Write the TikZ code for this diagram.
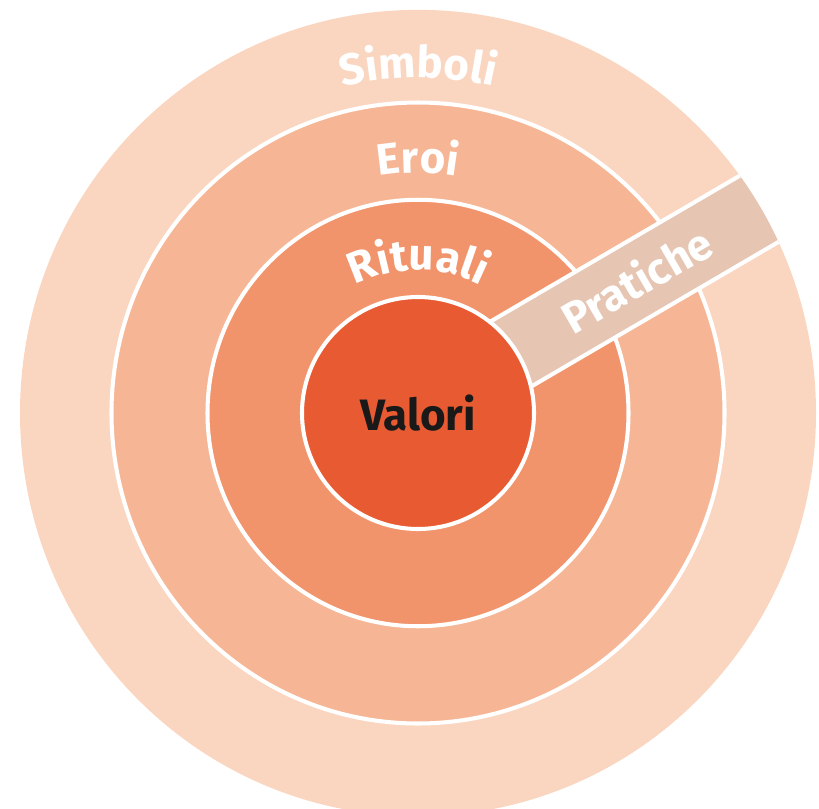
\documentclass[tikz,border=0pt]{standalone}
\usepackage{fontspec}
\setmainfont{Fira Sans}
\usetikzlibrary{decorations.text}
\definecolor{simbolicol}{HTML}{FAD6C1}
\definecolor{eroicol}{HTML}{F6B695}
\definecolor{ritualicol}{HTML}{F2946B}
\definecolor{valoricol}{HTML}{E85A32}
\definecolor{pratichecol}{HTML}{E6C6B3}
\newcommand{\ringfont}{\fontsize{25}{25}\selectfont\bfseries}
\begin{document}
\begin{tikzpicture}[yscale=1.013]
	\tikzstyle{ring}=[draw=white, line width=2.3pt]
	\tikzstyle{word}=[text=white, font=\ringfont, inner sep=0pt]
	\tikzstyle{arcword}=[decorate, decoration={text along path, text align=center, text color=white}]

	\clip (-8.36,-7.80) rectangle (8.02,8.154);

	\fill[simbolicol] (0,0) circle (7.96);
	\draw[ring, fill=eroicol] (0,0) circle (6.13);
	\draw[ring, fill=ritualicol] (0,0) circle (4.21);

	\begin{scope}
		\clip (0,0) circle (7.96);
		\begin{scope}[rotate=30]
			\fill[pratichecol] (0,-0.68) rectangle (9,0.84);
			\draw[ring] (0,-0.68) -- (9,-0.68);
			\draw[ring] (0,0.84) -- (9,0.84);
		\end{scope}
	\end{scope}

	\node[circle, ring, fill=valoricol, minimum size=4.64cm, font=\ringfont, text=black!90] (valori) at (0,0) {Valori};

	\path[arcword, decoration={text={|\ringfont|Simboli}}] (150:6.62) arc[start angle=150, end angle=30, radius=6.62];
	\path[arcword, decoration={text={|\ringfont|Eroi}}] (150:4.74) arc[start angle=150, end angle=30, radius=4.74];
	\path[arcword, decoration={text={|\ringfont|Rituali}}] (150:2.82) arc[start angle=150, end angle=30, radius=2.82];

	\node[word, rotate=30] (pratiche) at (4.37,2.64) {Pratiche};
\end{tikzpicture}
\end{document}
